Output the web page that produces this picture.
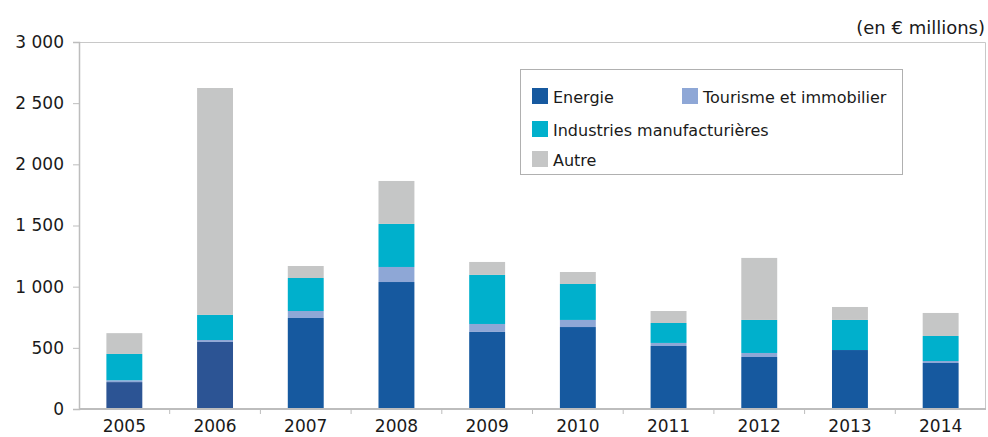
<!DOCTYPE html>
<html>
<head>
<meta charset="utf-8">
<script src="https://cdn.jsdelivr.net/npm/d3@7"></script>
<style>
  body { margin: 0; background: #fff; }
  text { font-family: 'DejaVu Sans', Verdana, sans-serif; fill: #1a1a1a; }
</style>
</head>
<body>
<div id="chart"></div>
<script>
// data (en € millions)
var years = ['2005', '2006', '2007', '2008', '2009', '2010', '2011', '2012', '2013', '2014']
var energie = [220, 548, 744, 1038, 630, 670, 515, 425, 482, 376]
var tourisme = [15, 16, 57, 123, 65, 58, 25, 33, 0, 16]
var industries = [215, 205, 270, 352, 401, 294, 163, 270, 246, 205]
var autre = [170, 1855, 98, 351, 106, 98, 98, 507, 106, 188]
var yTicks = [0, 500, 1000, 1500, 2000, 2500, 3000]

var keys = ['energie', 'tourisme', 'industries', 'autre']
var labels = {
  energie: 'Energie',
  tourisme: 'Tourisme et immobilier',
  industries: 'Industries manufacturières',
  autre: 'Autre'
}
var colors = {
  energie: '#16599f',
  tourisme: '#8ea7d6',
  industries: '#00b0cc',
  autre: '#c5c6c6'
}

var margin = { top: 42, left: 79, right: 2, bottom: 28 }
var width = 988 - margin.left - margin.right
var height = 437 - margin.top - margin.bottom

var svg = d3
  .select('#chart')
  .append('svg')
  .attr('width', width + margin.left + margin.right)
  .attr('height', height + margin.top + margin.bottom)
  .style('display', 'block')

var g = svg
  .append('g')
  .attr('transform', 'translate(' + margin.left + ',' + margin.top + ')')

var rows = years.map(function(y, i) {
  return {
    year: y,
    energie: energie[i],
    tourisme: tourisme[i],
    industries: industries[i],
    autre: autre[i]
  }
})

var xScale = d3
  .scaleBand()
  .domain(years)
  .range([0, width])
  .paddingInner(0.604)
  .paddingOuter(0.302)

var yScale = d3
  .scaleLinear()
  .domain([0, 3000])
  .range([height, 0])

var locale = d3.formatLocale({ decimal: ',', thousands: ' ', grouping: [3], currency: ['', ' €'] })
var fmt = locale.format(',')

// plot frame (top + right)
g.append('path')
  .attr('d', 'M0,0.5H' + (width - 0.5) + 'V' + height)
  .attr('fill', 'none')
  .attr('stroke', '#c8c8c8')
  .attr('stroke-width', 1)

// stacked bars
var stacked = d3.stack().keys(keys)(rows)

g.selectAll('.layer')
  .data(stacked)
  .enter()
  .append('g')
  .attr('class', 'layer')
  .selectAll('rect')
  .data(function(d) {
    return d.map(function(p) {
      return { key: d.key, p: p }
    })
  })
  .enter()
  .append('rect')
  .attr('x', d => xScale(d.p.data.year))
  .attr('width', xScale.bandwidth())
  .attr('y', d => yScale(d.p[1]))
  .attr('height', d => yScale(d.p[0]) - yScale(d.p[1]))
  .attr('fill', function(d) {
    // the first two energy bars are a slightly duller blue in the original
    if (d.key === 'energie' && (d.p.data.year === '2005' || d.p.data.year === '2006')) {
      return '#2c5494'
    }
    return colors[d.key]
  })

// y axis
var yAxis = d3
  .axisLeft(yScale)
  .tickValues(yTicks)
  .tickFormat(fmt)
  .tickSize(6)
  .tickPadding(9)

var yAxisG = g.append('g').attr('class', 'y-axis').call(yAxis)
yAxisG.select('.domain').attr('stroke', '#bdbdbd').attr('stroke-width', 1.5)
yAxisG.selectAll('.tick line').attr('stroke', '#bdbdbd')
yAxisG
  .selectAll('.tick text')
  .attr('font-size', 17)
  .attr('font-family', "'DejaVu Sans', Verdana, sans-serif")
  .attr('fill', '#1a1a1a')

// x axis: baseline, ticks between categories, labels centred
g.append('line')
  .attr('x1', 0)
  .attr('x2', width)
  .attr('y1', height)
  .attr('y2', height)
  .attr('stroke', '#bdbdbd')
  .attr('stroke-width', 2)

var step = xScale.step()
var boundaries = years.slice(1).map(function(y) {
  return xScale(y) - (step - xScale.bandwidth()) / 2
})

g.selectAll('.x-tick')
  .data(boundaries)
  .enter()
  .append('line')
  .attr('class', 'x-tick')
  .attr('x1', d => d)
  .attr('x2', d => d)
  .attr('y1', height)
  .attr('y2', height + 5)
  .attr('stroke', '#bdbdbd')

g.selectAll('.x-label')
  .data(years)
  .enter()
  .append('text')
  .attr('class', 'x-label')
  .attr('x', d => xScale(d) + xScale.bandwidth() / 2)
  .attr('y', height + 23)
  .attr('text-anchor', 'middle')
  .attr('font-size', 17)
  .text(d => d)

// unit label
svg
  .append('text')
  .attr('x', 985)
  .attr('y', 34)
  .attr('text-anchor', 'end')
  .attr('font-size', 18)
  .text('(en € millions)')

// legend
var legend = svg.append('g').attr('transform', 'translate(520,69)')

legend
  .append('rect')
  .attr('x', 0.5)
  .attr('y', 0.5)
  .attr('width', 382)
  .attr('height', 105)
  .attr('fill', '#fff')
  .attr('stroke', '#b0b0b0')

var legendPos = {
  energie: [12, 19],
  tourisme: [162, 19],
  industries: [12, 52],
  autre: [12, 82]
}

keys.forEach(function(k) {
  var pos = legendPos[k]
  legend
    .append('rect')
    .attr('x', pos[0])
    .attr('y', pos[1])
    .attr('width', 16)
    .attr('height', 16)
    .attr('fill', colors[k])
  legend
    .append('text')
    .attr('x', pos[0] + 21)
    .attr('y', pos[1] + 15)
    .attr('font-size', 16)
    .text(labels[k])
})
</script>
</body>
</html>
